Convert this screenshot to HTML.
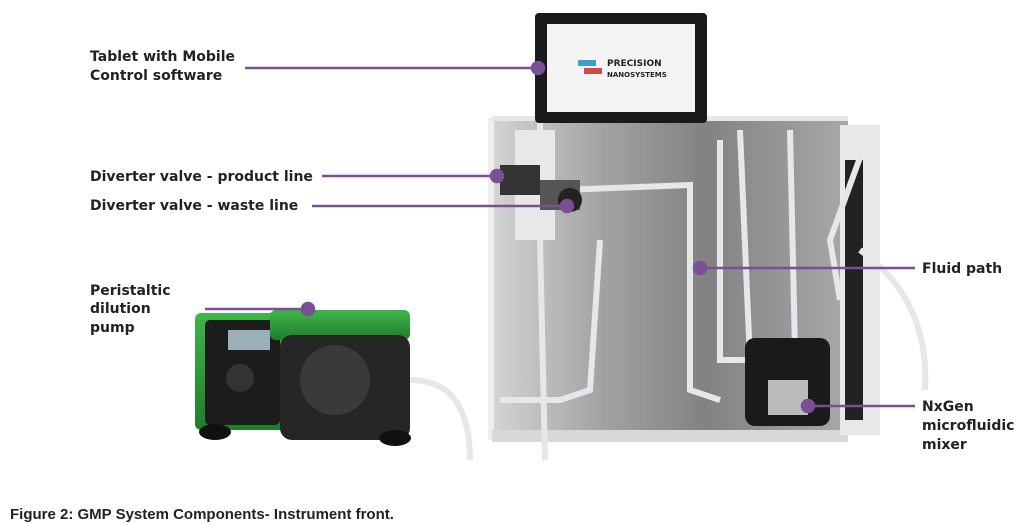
<!DOCTYPE html>
<html><head><meta charset="utf-8"><style>
html,body{margin:0;padding:0;background:#fff;}
svg{display:block;}
text{font-family:"DejaVu Sans","Liberation Sans",sans-serif;font-weight:bold;fill:#222;}
</style></head><body>
<svg width="1024" height="524" viewBox="0 0 1024 524" xmlns="http://www.w3.org/2000/svg">
<defs>
<linearGradient id="steel" x1="0" y1="0" x2="1" y2="0">
<stop offset="0" stop-color="#d4d4d4"/><stop offset="0.3" stop-color="#a4a4a4"/><stop offset="0.6" stop-color="#828282"/><stop offset="1" stop-color="#a8a8a8"/></linearGradient>
<linearGradient id="green" x1="0" y1="0" x2="0" y2="1">
<stop offset="0" stop-color="#3fb54a"/><stop offset="1" stop-color="#1f7d2c"/></linearGradient>
</defs>
<rect width="1024" height="524" fill="#fff"/>
<polygon points="492,120 848,118 848,440 492,440" fill="url(#steel)"/>
<rect x="488" y="118" width="6" height="322" fill="#eee"/>
<rect x="492" y="116" width="356" height="5" fill="#e6e6e6"/>
<rect x="492" y="430" width="356" height="12" fill="#d8d8d8"/>
<rect x="840" y="125" width="40" height="310" fill="#e8e8e8"/>
<rect x="845" y="160" width="18" height="260" fill="#222"/>
<g fill="none" stroke="#e4e8ea" stroke-width="6">
<path d="M560,190 L690,185 L690,390 L720,400"/>
<path d="M600,240 L590,390 L560,400 L500,400"/>
<path d="M720,140 L720,360 L760,360"/>
<path d="M740,130 L750,360"/>
<path d="M790,130 L795,350"/>
<path d="M870,130 L830,240 L840,300"/>
<path d="M860,250 Q930,300 925,390"/>
<path d="M540,240 L545,460"/>
<path d="M540,100 L540,160"/>
<path d="M410,380 Q470,380 470,460"/>
</g>
<rect x="515" y="130" width="40" height="110" fill="#e8e8e8"/>
<rect x="500" y="165" width="40" height="30" fill="#333"/>
<rect x="540" y="180" width="40" height="30" fill="#555"/>
<circle cx="570" cy="200" r="12" fill="#222"/>
<rect x="745" y="338" width="85" height="88" rx="10" fill="#1a1a1a"/>
<rect x="768" y="380" width="40" height="35" fill="#bbb"/>
<rect x="535" y="13" width="172" height="110" rx="4" fill="#1a1a1a"/>
<rect x="547" y="24" width="148" height="88" fill="#f4f4f4"/>
<rect x="578" y="60" width="18" height="6" fill="#3aa0c8"/>
<rect x="584" y="68" width="18" height="6" fill="#d24a4a"/>
<text x="607" y="66" font-size="9" fill="#333">PRECISION</text>
<text x="607" y="77" font-size="7" fill="#333" font-weight="normal">NANOSYSTEMS</text>
<rect x="195" y="313" width="95" height="117" rx="6" fill="url(#green)"/>
<rect x="205" y="320" width="75" height="105" rx="5" fill="#1c1c1c"/>
<rect x="228" y="330" width="42" height="20" fill="#9ab0b8"/>
<circle cx="240" cy="378" r="14" fill="#333"/>
<rect x="270" y="310" width="140" height="30" rx="6" fill="url(#green)"/>
<rect x="280" y="335" width="130" height="105" rx="12" fill="#262626"/>
<circle cx="335" cy="380" r="35" fill="#3a3a3a"/>
<ellipse cx="215" cy="432" rx="16" ry="8" fill="#111"/>
<ellipse cx="395" cy="438" rx="16" ry="8" fill="#111"/>
<g stroke="#7a4f93" stroke-width="2.5" fill="#7a4f93">
<line x1="245" y1="68" x2="538" y2="68"/><circle cx="538" cy="68" r="6"/>
<line x1="322" y1="176" x2="497" y2="176"/><circle cx="497" cy="176" r="6"/>
<line x1="312" y1="206" x2="567" y2="206"/><circle cx="567" cy="206" r="6"/>
<line x1="205" y1="309" x2="308" y2="309"/><circle cx="308" cy="309" r="6"/>
<line x1="700" y1="268" x2="915" y2="268"/><circle cx="700" cy="268" r="6"/>
<line x1="808" y1="406" x2="915" y2="406"/><circle cx="808" cy="406" r="6"/>
</g>
<g font-size="14">
<text x="90" y="61">Tablet with Mobile</text>
<text x="90" y="80">Control software</text>
<text x="90" y="181">Diverter valve - product line</text>
<text x="90" y="210">Diverter valve - waste line</text>
<text x="90" y="295">Peristaltic</text>
<text x="90" y="313">dilution</text>
<text x="90" y="332">pump</text>
<text x="922" y="273">Fluid path</text>
<text x="922" y="411">NxGen</text>
<text x="922" y="430">microfluidic</text>
<text x="922" y="449">mixer</text>
</g>
<text x="10" y="519" font-size="15" fill="#111" style="font-family:'Liberation Sans',Arial,sans-serif">Figure 2: GMP System Components- Instrument front.</text>
</svg>
</body></html>
